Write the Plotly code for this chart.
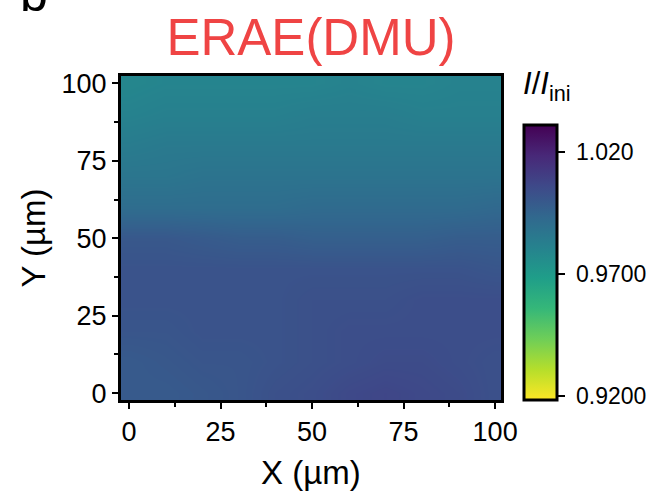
import plotly.graph_objects as go

# Scan positions (µm)
x_um = [0, 10, 20, 30, 40, 50, 60, 70, 80, 90, 100]
y_um = [0, 10, 20, 30, 40, 50, 60, 70, 80, 90, 100]

# Normalised intensity I/I_ini, one row per y position (y = 0 first)
intensity = [
    [0.999, 0.999, 1.000, 1.001, 1.003, 1.004, 1.006, 1.007, 1.006, 1.005, 1.003],
    [0.999, 1.000, 1.001, 1.001, 1.002, 1.003, 1.004, 1.005, 1.005, 1.004, 1.003],
    [1.001, 1.001, 1.002, 1.002, 1.002, 1.003, 1.004, 1.004, 1.004, 1.004, 1.004],
    [1.002, 1.002, 1.002, 1.002, 1.002, 1.003, 1.003, 1.003, 1.004, 1.004, 1.004],
    [1.002, 1.002, 1.002, 1.002, 1.002, 1.002, 1.002, 1.002, 1.002, 1.002, 1.001],
    [1.000, 1.000, 0.999, 0.998, 0.998, 0.997, 0.997, 0.997, 0.997, 0.998, 0.998],
    [0.991, 0.991, 0.991, 0.991, 0.991, 0.992, 0.992, 0.992, 0.992, 0.992, 0.993],
    [0.987, 0.987, 0.988, 0.988, 0.988, 0.988, 0.988, 0.988, 0.988, 0.988, 0.988],
    [0.984, 0.985, 0.985, 0.985, 0.985, 0.985, 0.985, 0.985, 0.985, 0.985, 0.985],
    [0.981, 0.982, 0.982, 0.982, 0.982, 0.983, 0.983, 0.983, 0.982, 0.982, 0.982],
    [0.979, 0.980, 0.980, 0.980, 0.980, 0.980, 0.981, 0.980, 0.980, 0.981, 0.981],
]

axis_ticks = [0, 25, 50, 75, 100]
cbar_ticks = [0.92, 0.97, 1.02]
cbar_labels = [" 0.9200", " 0.9700", " 1.020"]
z_min, z_max = 0.9185, 1.0310

FONT = "Arial, 'Liberation Sans', Helvetica, sans-serif"

fig = go.Figure(
    go.Heatmap(
        x=x_um,
        y=y_um,
        z=intensity,
        zsmooth="best",
        colorscale="Viridis",
        reversescale=True,
        zmin=z_min,
        zmax=z_max,
        colorbar=dict(
            x=1.06,
            xanchor="left",
            y=0,
            yanchor="bottom",
            len=0.85,
            lenmode="fraction",
            thickness=33,
            xpad=0,
            ypad=0,
            outlinewidth=3,
            outlinecolor="black",
            tickvals=cbar_ticks,
            ticktext=cbar_labels,
            ticks="outside",
            ticklen=7,
            tickwidth=2,
            tickcolor="black",
            tickfont=dict(family=FONT, size=23, color="black"),
        ),
    )
)

axis_common = dict(
    showline=True,
    linewidth=3,
    linecolor="black",
    mirror=True,
    showgrid=False,
    zeroline=False,
    ticks="outside",
    ticklen=6,
    tickwidth=2,
    tickcolor="black",
    tickvals=axis_ticks,
    tickfont=dict(family=FONT, size=27, color="black"),
    minor=dict(ticks="outside", ticklen=4, tickwidth=2, tickcolor="black",
               tick0=12.5, dtick=25),
)

fig.update_xaxes(**axis_common, range=[-2.2, 101.6])
fig.update_yaxes(
    **axis_common,
    range=[-2.2, 102.4],
    title=dict(text="Y (µm)", font=dict(family=FONT, size=33, color="black"),
               standoff=6),
)

fig.update_layout(
    width=651,
    height=498,
    margin=dict(l=121, r=150, t=76, b=98, autoexpand=False),
    paper_bgcolor="white",
    plot_bgcolor="white",
    font=dict(family=FONT, color="black"),
    title=dict(
        text="ERAE(DMU)",
        font=dict(family=FONT, size=51, color="#ef4444"),
        x=0.5,
        xref="paper",
        xanchor="center",
        y=0.926,
        yref="container",
        yanchor="middle",
    ),
    annotations=[
        dict(
            text="X (µm)",
            xref="paper", yref="paper",
            x=0.5, y=-0.225,
            xanchor="center", yanchor="middle",
            showarrow=False,
            font=dict(family=FONT, size=33, color="black"),
        ),
        dict(
            text="<i>I</i>/<i>I</i><sub>ini</sub>",
            xref="paper", yref="paper",
            x=1.052, y=0.9,
            xanchor="left", yanchor="bottom",
            showarrow=False,
            font=dict(family=FONT, size=31, color="black"),
        ),
        dict(
            text="b",
            xref="paper", yref="paper",
            x=-0.27, y=1.16,
            xanchor="left", yanchor="bottom",
            showarrow=False,
            font=dict(family=FONT, size=50, color="black"),
        ),
    ],
)

fig.write_html("out.html")
